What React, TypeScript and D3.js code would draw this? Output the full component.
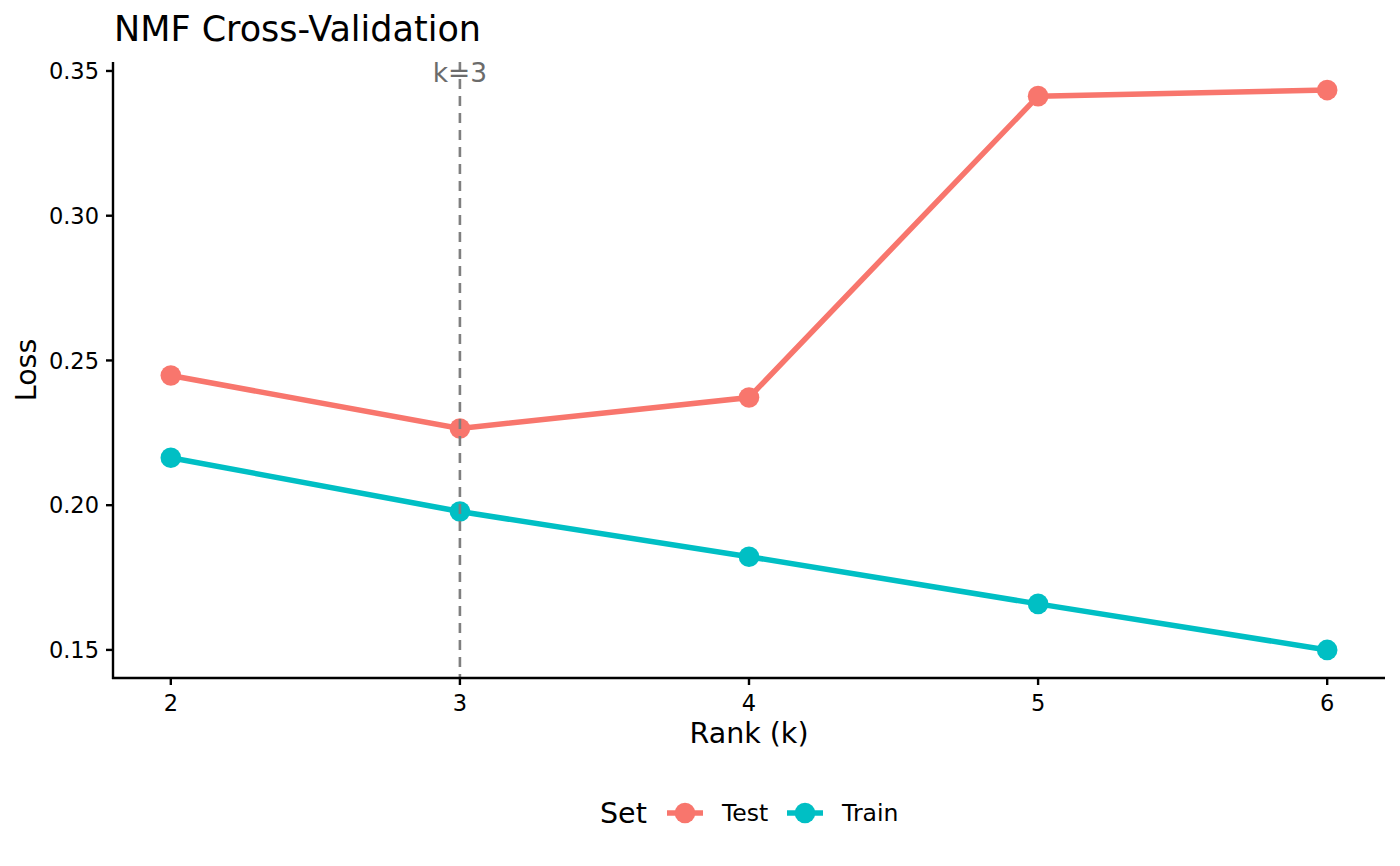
import React from 'react';
import * as d3 from 'd3';

const ranks = [2, 3, 4, 5, 6];
const testLoss = [0.2448, 0.2265, 0.2372, 0.3413, 0.3434];
const trainLoss = [0.2164, 0.1978, 0.1822, 0.1659, 0.15];
const yTicks = [0.15, 0.2, 0.25, 0.3, 0.35];
const seriesNames = ['Test', 'Train'];
const seriesColors = ['#F8766D', '#00BFC4'];
const chosenK = 3;

const W = 1400;
const H = 866;
const font = 'DejaVu Sans, sans-serif';

const App: React.FC = () => {
  const left = 113, right = 1385, top = 62, bottom = 678;

  const x = d3.scaleLinear().domain([1.8, 6.2]).range([left, right]);
  const y = d3.scaleLinear().domain([0.1403, 0.3531]).range([bottom, top]);

  const line = d3.line<number>()
    .x((_, i) => x(ranks[i]))
    .y(d => y(d));

  const series = [testLoss, trainLoss];

  return (
    <svg width={W} height={H} style={{ position: 'absolute', left: 0, top: 0, background: '#fff' }} fontFamily={font}>
      <text x={114} y={41} fontSize={35} fill="#000">NMF Cross-Validation</text>

      {series.map((vals, s) => (
        <g key={seriesNames[s]}>
          <path d={line(vals) || ''} fill="none" stroke={seriesColors[s]} strokeWidth={5.5} />
          {vals.map((v, i) => (
            <circle key={i} cx={x(ranks[i])} cy={y(v)} r={10.3} fill={seriesColors[s]} />
          ))}
        </g>
      ))}

      <line x1={x(chosenK)} x2={x(chosenK)} y1={top} y2={bottom} stroke="#7f7f7f" strokeWidth={2.6} strokeDasharray="10,7" />
      <text x={x(chosenK)} y={82} fontSize={26.5} fill="#6b6b6b" textAnchor="middle">k=3</text>

      {/* axes */}
      <line x1={left} x2={left} y1={top} y2={bottom + 1} stroke="#000" strokeWidth={2.4} />
      <line x1={left - 1} x2={right} y1={bottom} y2={bottom} stroke="#000" strokeWidth={2.4} />
      {yTicks.map(t => (
        <g key={t}>
          <line x1={left - 7} x2={left} y1={y(t)} y2={y(t)} stroke="#000" strokeWidth={2.4} />
          <text x={left - 14} y={y(t)} dy="0.36em" fontSize={22.5} textAnchor="end" fill="#000">{t.toFixed(2)}</text>
        </g>
      ))}
      {ranks.map(r => (
        <g key={r}>
          <line x1={x(r)} x2={x(r)} y1={bottom} y2={bottom + 7} stroke="#000" strokeWidth={2.4} />
          <text x={x(r)} y={711} fontSize={22.5} textAnchor="middle" fill="#000">{r}</text>
        </g>
      ))}
      <text x={(left + right) / 2} y={743} fontSize={28.5} textAnchor="middle" fill="#000">Rank (k)</text>
      <text transform={`translate(36,${(top + bottom) / 2}) rotate(-90)`} fontSize={28.5} textAnchor="middle" fill="#000">Loss</text>

      {/* legend */}
      <text x={600} y={823} fontSize={28.5} fill="#000">Set</text>
      {seriesNames.map((n, i) => {
        const kx = 667 + i * 120;
        return (
          <g key={n}>
            <line x1={kx} x2={kx + 36} y1={813} y2={813} stroke={seriesColors[i]} strokeWidth={5.5} />
            <circle cx={kx + 18} cy={813} r={10.3} fill={seriesColors[i]} />
            <text x={kx + 55} y={813} dy="0.36em" fontSize={23.5} fill="#000">{n}</text>
          </g>
        );
      })}
    </svg>
  );
};

export default App;
